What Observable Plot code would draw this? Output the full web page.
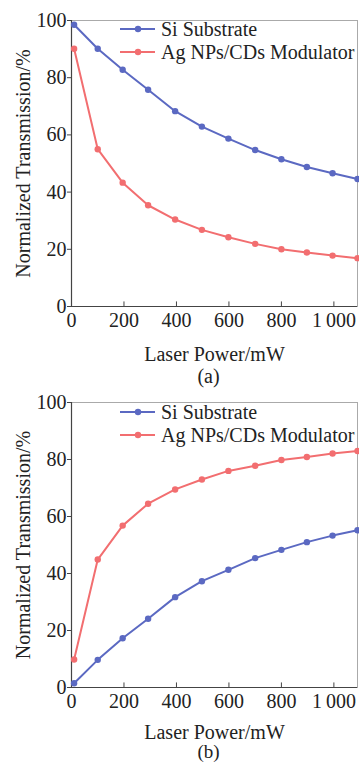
<!DOCTYPE html>
<html>
<head>
<meta charset="utf-8">
<script src="https://cdn.jsdelivr.net/npm/d3@7"></script>
<script src="https://cdn.jsdelivr.net/npm/@observablehq/plot@0.6"></script>
<style>
  html, body { margin: 0; padding: 0; background: #fff; }
  body { width: 359px; height: 764px; overflow: hidden; font-family: "Liberation Serif", "Times New Roman", "DejaVu Serif", serif; color: #222; }
  #root { position: relative; width: 359px; height: 764px; }
  .panel { position: absolute; left: 0; width: 359px; }
  .panel svg { display: block; }
  .caption { position: absolute; left: 58px; right: 0; text-align: center; font-size: 20px; line-height: 18px; height: 18px; }
  .legend { position: absolute; left: 120px; font-size: 20px; }
  .legend .row { position: absolute; left: 0; height: 22px; white-space: nowrap; }
  .legend svg { position: absolute; left: 0; top: 0; }
  .legend span { position: absolute; left: 41px; top: 0; line-height: 22px; }
</style>
</head>
<body>
<div id="root">
  <div id="a" class="panel" style="top:0px"></div>
  <div id="b" class="panel" style="top:382px"></div>
  <div class="caption" style="top:367px">(a)</div>
  <div class="caption" style="top:743px; font-size:19px">(b)</div>
</div>
<script>
// ---- data ----
const power = [10, 100, 195, 292, 395, 497, 598, 700, 800, 897, 995, 1090];
const siA = [98.5, 90.1, 82.8, 75.8, 68.3, 62.9, 58.7, 54.7, 51.5, 48.8, 46.6, 44.6];
const agA = [90.1, 55.0, 43.3, 35.4, 30.4, 26.8, 24.2, 21.9, 20.0, 18.9, 17.8, 16.9];
const siB = [1.5, 9.7, 17.3, 24.1, 31.7, 37.3, 41.3, 45.4, 48.3, 51.0, 53.3, 55.2];
const agB = [9.8, 44.9, 56.8, 64.5, 69.5, 73.0, 76.0, 77.8, 79.8, 80.9, 82.1, 83.0];
const seriesNames = ["Si Substrate", "Ag NPs/CDs Modulator"];
const xTicks = [0, 200, 400, 600, 800, 1000];
const yTicks = [0, 20, 40, 60, 80, 100];
const xLabel = "Laser Power/mW";
const yLabel = "Normalized Transmission/%";

const colors = { "Si Substrate": "#5b69c2", "Ag NPs/CDs Modulator": "#f26e70" };
const dark = "#444";
const fmt = d => d3.format(",")(d).replace(",", "\u2009");

function rows(si, ag) {
  const out = [];
  power.forEach((p, i) => out.push({ series: seriesNames[0], x: p, y: si[i] }));
  power.forEach((p, i) => out.push({ series: seriesNames[1], x: p, y: ag[i] }));
  return out;
}

function makePanel(id, si, ag, plotH, legendTop, xLabelOffset) {
  const data = rows(si, ag);
  const chart = Plot.plot({
    width: 359,
    height: 20 + plotH + 62,
    marginTop: 20,
    marginBottom: 62,
    marginLeft: 71,
    marginRight: 2,
    style: { fontFamily: "'Liberation Serif', 'Times New Roman', serif", fontSize: "20px", color: "#222", background: "transparent" },
    x: { domain: [0, 1090] },
    y: { domain: [0, 100] },
    marks: [
      Plot.frame({ stroke: "#aaa", strokeWidth: 1 }),
      Plot.axisY(yTicks, { tickSize: 4, tickPadding: 1, stroke: dark, label: yLabel, labelAnchor: "center", labelArrow: "none", labelOffset: 56 }),
      Plot.axisX(xTicks, { tickSize: 0, tickPadding: 6, tickFormat: fmt, label: xLabel, labelAnchor: "center", labelArrow: "none", labelOffset: xLabelOffset }),
      Plot.ruleX(xTicks, { x: d => d, y1: 0, y2: 1.6, stroke: dark, strokeWidth: 1 }),
      Plot.ruleX([0], { stroke: dark, strokeWidth: 1.2 }),
      Plot.ruleY([0], { stroke: dark, strokeWidth: 1.2 }),
      Plot.line(data, { x: "x", y: "y", z: "series", stroke: d => colors[d.series], strokeWidth: 2 }),
      Plot.dot(data, { x: "x", y: "y", fill: d => colors[d.series], r: 3.2, stroke: "none" })
    ]
  });
  const host = document.getElementById(id);
  host.appendChild(chart);
  const leg = document.createElement("div");
  leg.className = "legend";
  leg.style.top = legendTop + "px";
  seriesNames.forEach((name, i) => {
    const row = document.createElement("div");
    row.className = "row";
    row.style.top = (i * 23) + "px";
    row.innerHTML = `<svg width="36" height="22"><line x1="0" x2="35" y1="11" y2="11" stroke="${colors[name]}" stroke-width="2"/><circle cx="18" cy="11" r="3.2" fill="${colors[name]}"/></svg><span>${name}</span>`;
    leg.appendChild(row);
  });
  host.appendChild(leg);
}

makePanel("a", siA, agA, 286, 18, 54);
makePanel("b", siB, agB, 285, 19, 51);
</script>
</body>
</html>
